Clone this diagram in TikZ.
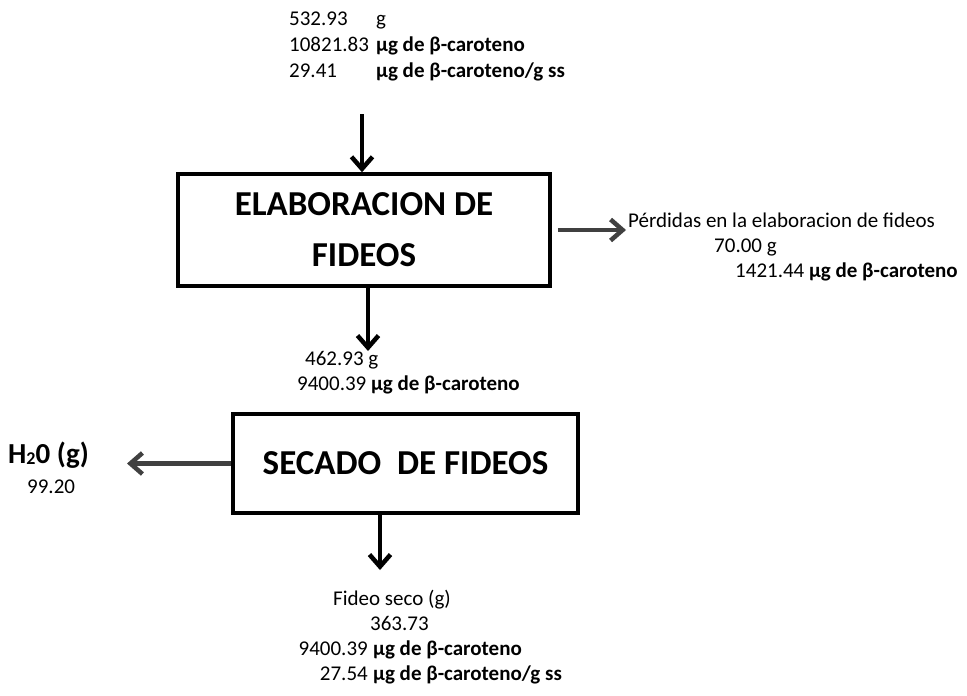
\documentclass[tikz,border=0pt]{standalone}
\usepackage{fontspec}
\setmainfont{Carlito}
\usetikzlibrary{arrows.meta,positioning}

\begin{document}
\begin{tikzpicture}[x=1pt,y=-1pt,
    flow/.style={line width=4.5pt,-{Straight Barb[length=12pt,width=21pt]}},
    side/.style={flow,black!75},
    stage/.style={draw,line width=3.5pt,align=center,font=\fontsize{35}{51}\selectfont\bfseries},
    txt/.style={anchor=base west,inner sep=0pt,font=\fontsize{21}{25}\selectfont}]
    \useasboundingbox (0,0) rectangle (967,696);

    % Input
    \foreach \n/\y/\val/\unit in {
        1/25/532.93/g,
        2/51/10821.83/{\textbf{μg de β-caroteno}},
        3/77/29.41/{\textbf{μg de β-caroteno/g ss}}
    } {
        \node[txt] (in\n) at (289,\y) {\val};
        \node[txt] (inu\n) at (376,\y) {\unit};
    }

    % Process boxes
    \node[stage,minimum width=372pt,minimum height=112pt] (elab) at (364,230) {ELABORACION DE\\FIDEOS};
    \node[stage,minimum width=345pt,minimum height=99pt] (dry) at (405.5,463.5) {SECADO\ \ DE FIDEOS};

    % Losses
    \node[txt] (loss1) at (628,227) {Pérdidas en la elaboracion de fideos};
    \node[txt] (loss2) at (714,252) {70.00 g};
    \node[txt] (loss3) at (735,277) {1421.44 \textbf{μg de β-caroteno}};

    % Intermediate
    \node[txt] (mid1) at (305,365) {462.93 g};
    \node[txt] (mid2) at (297,390) {9400.39 \textbf{μg de β-caroteno}};

    % Water
    \node[txt,font=\fontsize{29}{32}\selectfont\bfseries] (water) at (8,463) {H\raisebox{-1pt}{\fontsize{18}{18}\selectfont 2}0 (g)};
    \node[txt] (waterval) at (27,493) {99.20};

    % Output
    \node[txt] (out1) at (333,605) {Fideo seco (g)};
    \node[txt] (out2) at (370,630) {363.73};
    \foreach \n/\y/\val/\unit in {
        3/655/9400.39/{\textbf{μg de β-caroteno}},
        4/680/27.54/{\textbf{μg de β-caroteno/g ss}}
    } {
        \node[txt,anchor=base east] (out\n) at (368,\y) {\val};
        \node[txt] (outu\n) at (373,\y) {\unit};
    }

    % Arrows
    \coordinate (feed) at (362,114);
    \coordinate (mid) at (368,351);
    \coordinate (lossin) at (626,230);
    \coordinate (waterin) at (127,463.5);
    \coordinate (outin) at (380,570);
    \draw[flow] (feed) -- (feed |- elab.north);
    \draw[flow] (mid |- elab.south) -- (mid);
    \draw[side,shorten <=6pt] (elab.east) -- (lossin);
    \draw[side] (dry.west) -- (waterin);
    \draw[flow] (outin |- dry.south) -- (outin);
\end{tikzpicture}
\end{document}
